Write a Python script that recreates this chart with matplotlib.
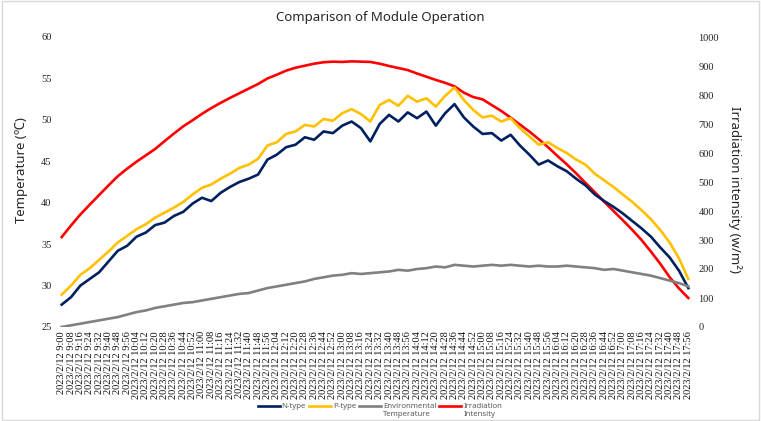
import matplotlib.pyplot as plt
import numpy as np

# one sample every 8 minutes, 9:00 .. 17:56
times = ["2023/2/12 %d:%02d" % (9 + m // 60, m % 60) for m in range(0, 537, 8)]

n_type = [27.7, 28.6, 30.0, 30.8, 31.6, 32.9, 34.2, 34.8, 35.9, 36.4,
          37.3, 37.6, 38.4, 38.9, 39.9, 40.6, 40.2, 41.2, 41.9, 42.5,
          42.9, 43.4, 45.2, 45.8, 46.7, 47.0, 47.9, 47.6, 48.6, 48.4,
          49.3, 49.8, 49.0, 47.4, 49.5, 50.6, 49.8, 50.9, 50.2, 51.0,
          49.3, 50.8, 51.9, 50.3, 49.2, 48.3, 48.4, 47.5, 48.2, 46.9,
          45.8, 44.6, 45.1, 44.4, 43.8, 42.9, 42.1, 41.0, 40.2, 39.5,
          38.7, 37.8, 36.9, 35.9, 34.6, 33.4, 31.8, 29.7]

p_type = [28.9, 30.0, 31.3, 32.1, 33.1, 34.1, 35.2, 36.0, 36.8, 37.4,
          38.2, 38.8, 39.4, 40.1, 41.0, 41.8, 42.2, 42.9, 43.5, 44.2,
          44.6, 45.3, 46.9, 47.3, 48.3, 48.6, 49.4, 49.2, 50.1, 49.9,
          50.8, 51.3, 50.7, 49.8, 51.8, 52.4, 51.7, 52.9, 52.2, 52.6,
          51.6, 52.9, 53.9, 52.4, 51.2, 50.3, 50.5, 49.8, 50.2, 49.0,
          48.0, 47.0, 47.3, 46.6, 46.0, 45.2, 44.6, 43.5, 42.7, 41.9,
          41.0, 40.1, 39.1, 38.0, 36.7, 35.2, 33.3, 30.8]

env_temp = [25.0, 25.2, 25.4, 25.6, 25.8, 26.0, 26.2, 26.5, 26.8, 27.0,
            27.3, 27.5, 27.7, 27.9, 28.0, 28.2, 28.4, 28.6, 28.8, 29.0,
            29.1, 29.4, 29.7, 29.9, 30.1, 30.3, 30.5, 30.8, 31.0, 31.2,
            31.3, 31.5, 31.4, 31.5, 31.6, 31.7, 31.9, 31.8, 32.0, 32.1,
            32.3, 32.2, 32.5, 32.4, 32.3, 32.4, 32.5, 32.4, 32.5, 32.4,
            32.3, 32.4, 32.3, 32.3, 32.4, 32.3, 32.2, 32.1, 31.9, 32.0,
            31.8, 31.6, 31.4, 31.2, 30.9, 30.6, 30.3, 29.9]

irradiance = [310, 350, 388, 422, 455, 488, 520, 546, 570, 592,
              614, 641, 667, 692, 713, 735, 755, 773, 790, 806,
              822, 838, 857, 870, 884, 894, 901, 908, 913, 915,
              914, 916, 915, 914, 908, 900, 893, 886, 874, 863,
              852, 842, 830, 808, 793, 785, 765, 745, 722, 698,
              674, 648, 620, 590, 561, 530, 497, 465, 432, 400,
              368, 335, 300, 260, 218, 172, 133, 100]

sans = ['Noto Sans', 'DejaVu Sans']
serif = 'Liberation Serif'

fig = plt.figure(figsize=(7.61, 4.21), dpi=100)
ax = fig.add_axes([57/761, 1 - 327/421, 636/761, 290/421])
ax2 = ax.twinx()

x = np.arange(len(times))
l1, = ax.plot(x, n_type, color='#002060', lw=1.9)
l2, = ax.plot(x, p_type, color='#FFC000', lw=1.9)
l3, = ax.plot(x, env_temp, color='#808080', lw=1.9)
l4, = ax2.plot(x, irradiance, color='#FF0000', lw=1.9)
ax.set_zorder(ax2.get_zorder() + 1)
ax.patch.set_visible(False)

ax.set_xlim(-0.5, len(times) - 0.5)
ax.set_ylim(25, 60)
ax.set_yticks(np.arange(25, 61, 5))
ax2.set_ylim(0, 1000)
ax2.set_yticks(np.arange(0, 1001, 100))

ax.set_xticks(x)
ax.set_xticklabels(times, rotation=90, fontsize=7.5, family=serif, color='#111111')
for t in ax.get_yticklabels() + ax2.get_yticklabels():
    t.set_family(serif)
    t.set_fontsize(7.5)
    t.set_color('#222222')

for a in (ax, ax2):
    for s in a.spines.values():
        s.set_visible(False)
    a.tick_params(length=0, pad=4)
ax.tick_params(axis='x', pad=3)

fig.text(22/761, 1 - 170/421, 'Temperature (℃)', family=sans, fontsize=9.5,
         color='#262626', rotation=90, ha='center', va='center')
fig.text(735/761, 1 - 189/421, 'Irradiation intensity (w/m²)', family=sans, fontsize=9.5,
         color='#262626', rotation=270, ha='center', va='center')

fig.text(380/761, 1 - 18/421, 'Comparison of Module Operation', family=sans,
         fontsize=9.5, color='#262626', ha='center', va='center')

# legend: first line with handles, second line of the long labels underneath
leg = fig.legend(handles=[l1, l2, l3, l4],
                 labels=['N-type', 'P-type', 'Environmental', 'Irradiation'],
                 loc='center', bbox_to_anchor=(380/761, 1 - 406.5/421),
                 ncol=4, frameon=False, prop={'family': sans, 'size': 5.6},
                 handlelength=2.8, handletextpad=0.25, columnspacing=0.4, borderpad=0)
for t in leg.get_texts():
    t.set_color('#595959')

fig.canvas.draw()
inv = fig.transFigure.inverted()
for t, second in zip(leg.get_texts()[2:], ['Temperature', 'Intensity']):
    bb = t.get_window_extent()
    x0, y0 = inv.transform((bb.x0, bb.y0))
    fig.text(x0, y0 - 1/421, second, family=sans, fontsize=5.6,
             color='#595959', ha='left', va='top')

fig.patches.append(plt.Rectangle((0.002, 0.003), 0.996, 0.994, transform=fig.transFigure,
                                 fill=False, edgecolor='#d9d9d9', lw=1))

fig.savefig('out.png', dpi=100)
